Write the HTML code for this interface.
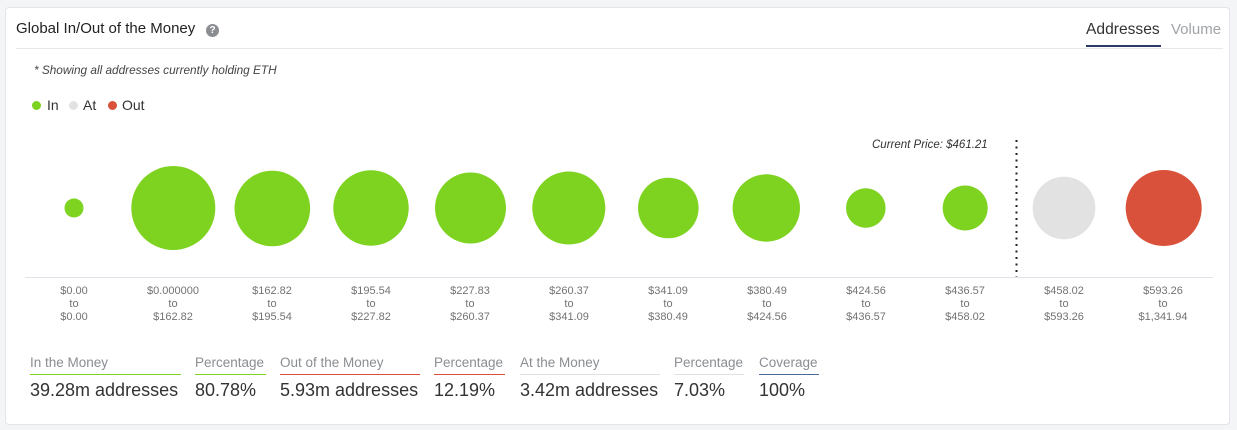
<!DOCTYPE html>
<html>
<head>
<meta charset="utf-8">
<style>
  html,body{margin:0;padding:0;}
  body{width:1237px;height:430px;background:#f4f5f7;position:relative;overflow:hidden;font-family:"Liberation Sans",Arial,sans-serif;}
  .card{position:absolute;left:5px;top:7px;width:1225px;height:418px;background:#fff;border:1px solid #e3e5e9;border-radius:4px;box-sizing:border-box;}
  .abs{position:absolute;white-space:nowrap;}
  .title{left:16px;top:20px;font-size:15px;color:#222;}
  .q{left:206px;top:24px;width:13px;height:13px;border-radius:50%;background:#8a8d92;color:#fff;font-size:10px;font-weight:bold;text-align:center;line-height:13px;}
  .hline{left:16px;top:48px;width:1207px;height:1px;background:#e6e8ec;}
  .tab1{left:1086px;top:21px;font-size:15.6px;color:#333;}
  .tabline{left:1086px;top:45px;width:75px;height:2px;background:#2c3a66;}
  .tab2{left:1171px;top:21px;font-size:15px;color:#a0a3a8;}
  .sub{left:34px;top:63px;font-size:11.8px;font-style:italic;color:#444;}
  .leg{top:97px;font-size:14px;color:#333;}
  .dot{position:absolute;width:9px;height:9px;border-radius:50%;top:101px;}
  .cp{left:872px;top:139px;font-size:11.5px;font-style:italic;color:#333;}
  .lab{position:absolute;top:285px;width:100px;margin-left:-50px;text-align:center;font-size:11px;line-height:12.8px;color:#737373;}
  .sl{position:absolute;top:355px;font-size:13.5px;color:#8a8d92;padding-bottom:3px;box-sizing:border-box;height:20px;}
  .sv{position:absolute;top:380px;font-size:18px;color:#333;}
</style>
</head>
<body>
<div class="card"></div>
<div class="abs title">Global In/Out of the Money</div>
<div class="abs q">?</div>
<div class="abs hline"></div>
<div class="abs tab1">Addresses</div>
<div class="abs tabline"></div>
<div class="abs tab2">Volume</div>
<div class="abs sub">* Showing all addresses currently holding ETH</div>

<div class="dot" style="left:32px;background:#7ed321;"></div>
<div class="abs leg" style="left:47px;">In</div>
<div class="dot" style="left:69px;background:#e2e2e2;"></div>
<div class="abs leg" style="left:83px;">At</div>
<div class="dot" style="left:108px;background:#d9513a;"></div>
<div class="abs leg" style="left:122px;">Out</div>

<div class="abs cp">Current Price: $461.21</div>

<svg class="abs" style="left:0;top:0;" width="1237" height="430">
  <line x1="25" y1="277.5" x2="1213" y2="277.5" stroke="#e1e3ea" stroke-width="1"/>
  <line x1="1016.5" y1="140" x2="1016.5" y2="277" stroke="#222" stroke-width="2" stroke-dasharray="2 4.5"/>
  <circle cx="74" cy="208" r="9.5" fill="#7ed321"/>
  <circle cx="173.3" cy="208" r="42" fill="#7ed321"/>
  <circle cx="272.3" cy="208.5" r="37.8" fill="#7ed321"/>
  <circle cx="371" cy="208" r="37.7" fill="#7ed321"/>
  <circle cx="470.5" cy="208" r="35.5" fill="#7ed321"/>
  <circle cx="568.8" cy="208" r="36.5" fill="#7ed321"/>
  <circle cx="668.3" cy="208" r="30.3" fill="#7ed321"/>
  <circle cx="766.3" cy="208" r="33.7" fill="#7ed321"/>
  <circle cx="865.8" cy="208" r="19.8" fill="#7ed321"/>
  <circle cx="965.2" cy="208" r="22.5" fill="#7ed321"/>
  <circle cx="1064" cy="208" r="31.3" fill="#e2e2e2"/>
  <circle cx="1163.7" cy="208" r="38" fill="#d9513a"/>
</svg>

<div class="lab" style="left:74px;">$0.00<br>to<br>$0.00</div>
<div class="lab" style="left:173px;">$0.000000<br>to<br>$162.82</div>
<div class="lab" style="left:272px;">$162.82<br>to<br>$195.54</div>
<div class="lab" style="left:371px;">$195.54<br>to<br>$227.82</div>
<div class="lab" style="left:470px;">$227.83<br>to<br>$260.37</div>
<div class="lab" style="left:569px;">$260.37<br>to<br>$341.09</div>
<div class="lab" style="left:668px;">$341.09<br>to<br>$380.49</div>
<div class="lab" style="left:767px;">$380.49<br>to<br>$424.56</div>
<div class="lab" style="left:866px;">$424.56<br>to<br>$436.57</div>
<div class="lab" style="left:965px;">$436.57<br>to<br>$458.02</div>
<div class="lab" style="left:1064px;">$458.02<br>to<br>$593.26</div>
<div class="lab" style="left:1163px;">$593.26<br>to<br>$1,341.94</div>

<div class="sl" style="left:30px;width:151px;border-bottom:1px solid #7ed321;">In the Money</div>
<div class="sl" style="left:195px;width:71px;border-bottom:1px solid #7ed321;">Percentage</div>
<div class="sl" style="left:280px;width:140px;border-bottom:1px solid #d9513a;">Out of the Money</div>
<div class="sl" style="left:434px;width:71px;border-bottom:1px solid #d9513a;">Percentage</div>
<div class="sl" style="left:520px;width:140px;border-bottom:1px solid #e2e2e2;">At the Money</div>
<div class="sl" style="left:674px;width:70px;border-bottom:1px solid #e2e2e2;">Percentage</div>
<div class="sl" style="left:759px;width:60px;border-bottom:1px solid #4a6a9a;">Coverage</div>

<div class="sv" style="left:30px;">39.28m addresses</div>
<div class="sv" style="left:195px;">80.78%</div>
<div class="sv" style="left:280px;">5.93m addresses</div>
<div class="sv" style="left:434px;">12.19%</div>
<div class="sv" style="left:520px;">3.42m addresses</div>
<div class="sv" style="left:674px;">7.03%</div>
<div class="sv" style="left:759px;">100%</div>
</body>
</html>
